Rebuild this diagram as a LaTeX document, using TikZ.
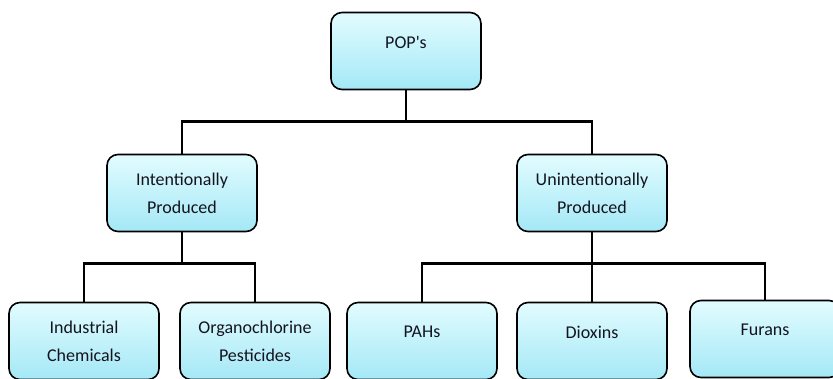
\documentclass[tikz,border=0pt]{standalone}
\usepackage{fontspec}
\setmainfont{Carlito}
\definecolor{boxtop}{HTML}{E2FCFF}
\definecolor{boxbottom}{HTML}{A4E8F6}
\definecolor{textdark}{HTML}{14141F}
\tikzset{
	popbox/.style={draw=black, line width=1.6pt, rounded corners=11pt,
		top color=boxtop, bottom color=boxbottom,
		minimum width=150pt, minimum height=77pt, inner sep=0pt,
		align=center, text=textdark, font=\fontsize{18}{28}\selectfont},
	bus/.style={line width=2.8pt}
}
\begin{document}
\begin{tikzpicture}[x=1pt, y=-1pt]

	% Frame
	\useasboundingbox (0,0) rectangle (833,379);
	
	% Top level
	\node [popbox] (pops) at (406,51) {POP\textquotesingle s\\[-10pt]\mbox{}};
	
	% Second level
	\node [popbox] (intent) at (182,193) {Intentionally\\Produced};
	\node [popbox] (unint) at (592,193) {Unintentionally\\Produced};
	
	% Third level
	\node [popbox] (indus) at (84,341) {Industrial\\Chemicals};
	\node [popbox] (organo) at (255,341) {Organochlorine\\Pesticides};
	\node [popbox] (pahs) at (422,341) {PAHs\\[-10pt]\mbox{}};
	\node [popbox] (dioxins) at (592,341) {Dioxins\\[-10pt]\mbox{}};
	\node [popbox] (furans) at (765,339) {Furans\\[-10pt]\mbox{}};
	
	% Connectors
	\draw [bus] (pops.south) -- ++(0,33);
	\draw [bus] (intent.north) -- ++(0,-32) -| (unint.north);
	\draw [bus] (intent.south) -- ++(0,33);
	\draw [bus] (indus.north) -- ++(0,-38) -| (organo.north);
	\draw [bus] (unint.south) -- ++(0,33);
	\draw [bus] (pahs.north) -- ++(0,-38) -| (furans.north);
	\draw [bus] (dioxins.north) -- ++(0,-38);
	
\end{tikzpicture}
\end{document}
